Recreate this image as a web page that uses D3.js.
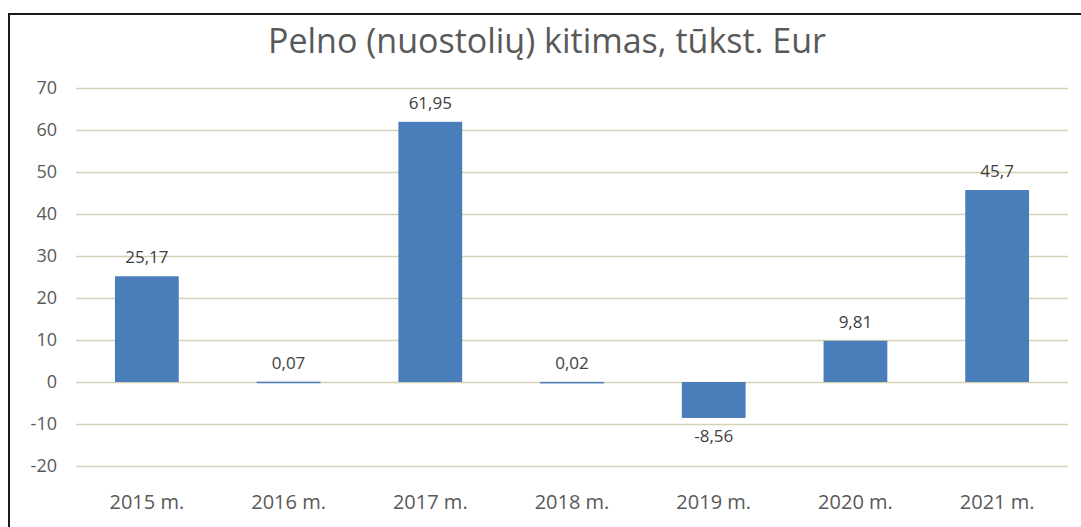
<!DOCTYPE html>
<html>
<head>
<meta charset="utf-8">
<script src="https://cdn.jsdelivr.net/npm/d3@7"></script>
<style>
  body { margin: 0; background: #fff; }
  text { font-family: "Open Sans", "Noto Sans", sans-serif; }
</style>
</head>
<body>
<div id="chart"></div>
<script>
// data
const years = ['2015 m.', '2016 m.', '2017 m.', '2018 m.', '2019 m.', '2020 m.', '2021 m.'];
const values = [25.17, 0.07, 61.95, 0.02, -8.56, 9.81, 45.7];
const labels = ['25,17', '0,07', '61,95', '0,02', '-8,56', '9,81', '45,7'];
const yTicks = [-20, -10, 0, 10, 20, 30, 40, 50, 60, 70];
const title = 'Pelno (nuostolių) kitimas, tūkst. Eur';

const W = 1081, H = 527;
const margin = { top: 88, right: 13, bottom: 61, left: 76 };

const svg = d3.select('#chart').append('svg')
  .attr('width', W).attr('height', H);

svg.append('rect').attr('width', W).attr('height', H).attr('fill', '#fff');

// outer frame
svg.append('rect')
  .attr('x', 9).attr('y', 14)
  .attr('width', W + 20).attr('height', H + 20)
  .attr('fill', 'none')
  .attr('stroke', '#1a1a1a')
  .attr('stroke-width', 2);

const x = d3.scaleBand()
  .domain(years)
  .range([margin.left, W - margin.right])
  .paddingInner(0.55)
  .paddingOuter(0.275);

const y = d3.scaleLinear()
  .domain([-20, 70])
  .range([H - margin.bottom, margin.top]);

// grid
svg.append('g').selectAll('line')
  .data(yTicks)
  .join('line')
  .attr('x1', margin.left).attr('x2', W - margin.right)
  .attr('y1', d => Math.round(y(d)) + 0.5).attr('y2', d => Math.round(y(d)) + 0.5)
  .attr('stroke', '#d5d2b4')
  .attr('stroke-width', 1.5);

// y labels
const yAxis = d3.axisLeft(y).tickValues(yTicks).tickSize(0).tickPadding(0)
  .tickFormat(d => String(d));
const yg = svg.append('g')
  .attr('transform', `translate(${margin.left - 19},0)`)
  .call(yAxis);
yg.select('.domain').remove();
yg.selectAll('text')
  .attr('fill', '#595959')
  .style('font-size', '18px');

// x labels
const xAxis = d3.axisBottom(x).tickSize(0).tickPadding(0);
const xg = svg.append('g')
  .attr('transform', `translate(0,${H - 25})`)
  .call(xAxis);
xg.select('.domain').remove();
xg.selectAll('text')
  .attr('fill', '#595959')
  .attr('dy', '0.35em')
  .style('font-size', '20px');

// bars
svg.append('g').selectAll('rect')
  .data(values)
  .join('rect')
  .attr('x', (d, i) => x(years[i]))
  .attr('width', x.bandwidth())
  .attr('y', d => y(Math.max(0, d)))
  .attr('height', d => Math.max(1.5, Math.abs(y(d) - y(0))))
  .attr('fill', '#4a7ebb');

// value labels
svg.append('g').selectAll('text')
  .data(values)
  .join('text')
  .attr('x', (d, i) => x(years[i]) + x.bandwidth() / 2)
  .attr('y', d => d >= 0 ? y(d) - 13 : y(d) + 24)
  .attr('text-anchor', 'middle')
  .attr('fill', '#404040')
  .style('font-size', '17px')
  .text((d, i) => labels[i]);

// title
svg.append('text')
  .attr('x', 547).attr('y', 53)
  .attr('text-anchor', 'middle')
  .attr('fill', '#595959')
  .style('font-size', '34px')
  .text(title);
</script>
</body>
</html>
